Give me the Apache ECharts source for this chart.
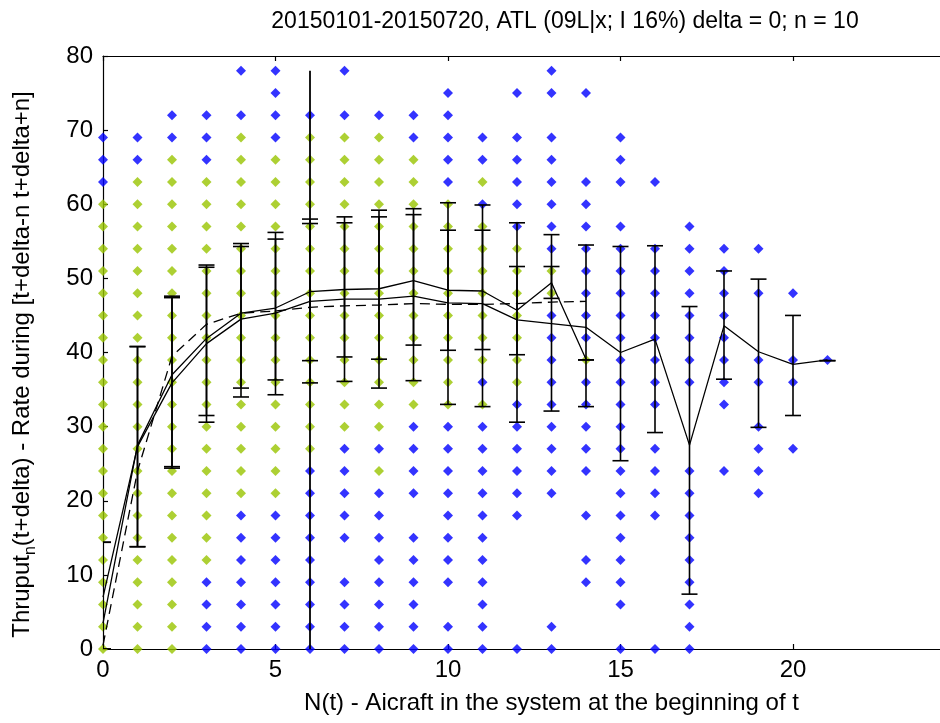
<!DOCTYPE html>
<html>
<head>
<meta charset="utf-8">
<script src="https://cdn.jsdelivr.net/npm/echarts@6/dist/echarts.min.js"></script>
<style>
  html, body { margin: 0; padding: 0; background: #fff; }
  #chart { width: 940px; height: 723px; }
</style>
</head>
<body>
<div id="chart"></div>
<script>
// Throughput vs. aircraft count, ATL runway 09L
const titleText = '20150101-20150720, ATL (09L|x; I 16%) delta = 0; n = 10';
const xName = 'N(t) - Aicraft in the system at the beginning of t';
const xRange = [0, 26];
const xStep = 5;
const yTicks = [0, 10, 20, 30, 40, 50, 60, 70, 80];

// observed throughput values per N(t) = 0..21 (all observations)
const allObs = [
  [63, 66, 69],
  [66, 69],
  [69, 72],
  [0, 3, 6, 9, 66, 69, 72],
  [0, 3, 6, 9, 12, 15, 18, 72, 78],
  [0, 3, 6, 9, 12, 15, 18, 69, 72, 75, 78],
  [0, 3, 6, 9, 12, 15, 18, 21, 24, 72],
  [0, 3, 6, 9, 15, 18, 21, 24, 27, 72, 78],
  [0, 3, 6, 9, 12, 15, 18, 21, 27, 72],
  [0, 3, 6, 9, 12, 15, 21, 24, 27, 30, 69, 72],
  [0, 3, 9, 12, 15, 18, 21, 24, 27, 30, 63, 66, 69, 72, 75],
  [0, 3, 6, 9, 12, 15, 18, 21, 24, 27, 30, 36, 60, 66, 69],
  [0, 18, 21, 24, 27, 30, 33, 57, 60, 63, 66, 69, 75],
  [0, 3, 21, 24, 27, 30, 33, 36, 39, 42, 45, 54, 57, 60, 63, 66, 69, 75, 78],
  [9, 12, 18, 24, 27, 30, 33, 36, 42, 45, 48, 51, 54, 57, 60, 63, 75],
  [0, 6, 9, 12, 15, 18, 21, 24, 27, 30, 33, 36, 39, 42, 45, 48, 51, 54, 57, 63, 66, 69],
  [0, 18, 21, 24, 27, 33, 36, 39, 42, 45, 48, 51, 54, 63],
  [0, 3, 6, 9, 12, 15, 18, 21, 24, 36, 39, 42, 45, 48, 51, 54, 57],
  [24, 33, 36, 39, 42, 45, 48, 51, 54],
  [21, 24, 27, 30, 36, 39, 48, 54],
  [27, 36, 39, 48],
  [39]
];

// values within the selected subset, N(t) = 0..14
const subsetObs = [
  [0, 3, 6, 9, 12, 15, 18, 21, 24, 27, 30, 33, 36, 39, 42, 45, 48, 51, 54, 57, 60],
  [0, 3, 6, 9, 12, 15, 18, 21, 24, 27, 30, 33, 36, 39, 42, 45, 48, 51, 54, 57, 60, 63],
  [0, 3, 6, 9, 12, 15, 18, 21, 24, 27, 30, 33, 36, 39, 42, 45, 48, 51, 54, 57, 60, 63, 66],
  [12, 15, 18, 21, 24, 27, 30, 33, 36, 39, 42, 45, 48, 51, 54, 57, 60, 63],
  [21, 24, 27, 30, 33, 36, 39, 42, 45, 48, 51, 54, 57, 60, 63, 66, 69],
  [21, 24, 27, 30, 33, 36, 39, 42, 45, 48, 51, 54, 57, 60, 63, 66],
  [27, 30, 33, 36, 39, 42, 45, 48, 51, 54, 57, 60, 63, 66, 69],
  [30, 33, 36, 39, 42, 45, 48, 51, 54, 57, 60, 63, 66, 69],
  [24, 30, 33, 36, 39, 42, 45, 48, 51, 54, 57, 60, 63, 66, 69],
  [33, 36, 39, 42, 45, 48, 51, 54, 57, 60, 63, 66],
  [33, 36, 39, 42, 45, 48, 51, 54, 57, 60],
  [33, 39, 42, 45, 48, 51, 54, 57, 63],
  [36, 39, 42, 45, 48, 51, 54],
  [48, 51],
  [39]
];

// mean throughput, all observations (N = 0..21)
const meanAll = [7, 27.3, 35.9, 41.2, 44.5, 45.3, 46.9, 47.2, 47.2, 47.6, 46.7, 46.6,
                 44.4, 43.9, 43.4, 40, 41.8, 27.5, 43.6, 40.1, 38.4, 39];
// mean throughput, subset (N = 0..14)
const meanSubset = [3.5, 27.5, 37, 41.9, 45.3, 46, 48.2, 48.5, 48.6, 49.7, 48.4, 48.3,
                    45.7, 49.4, 39.1];
// fitted curve (N = 0..14)
const fitCurve = [0.5, 24, 39.5, 43.8, 45.3, 45.6, 46.1, 46.3, 46.4, 46.6, 46.5, 46.5,
                  46.6, 46.8, 46.9];

// mean -/+ one std, all observations: [low, high]
const spreadAll = [
  [0, 14.4], [13.8, 40.8], [24.4, 47.6], [30.6, 51.8], [34.0, 54.7], [34.3, 56.2],
  [35.9, 58.0], [36.1, 58.3], [35.2, 59.2], [36.2, 59.4], [33.0, 60.2], [32.7, 59.9],
  [30.6, 57.5], [32.1, 55.9], [32.7, 54.5], [25.4, 54.3], [29.2, 54.4], [7.4, 46.2],
  [36.4, 51.0], [29.9, 49.9], [31.5, 45.0], [38.9, 38.9]
];
// mean -/+ one std, subset
const spreadSubset = [
  [0, 14.4], [13.8, 40.8], [24.6, 47.4], [31.5, 51.5], [35.2, 54.3], [36.3, 55.3],
  [38.9, 57.4], [39.4, 57.5], [39.1, 58.3], [41.0, 58.6], [40.3, 56.5], [40.4, 56.5],
  [39.7, 51.6], [47.3, 51.6], [39.0, 39.0]
];

// marker line at N = 6
const markerX = 6;
const markerRange = [0, 78];

const FONT = '"Liberation Sans", Arial, Helvetica, sans-serif';
const FS = 24;

function toPoints(cols) {
  const out = [];
  cols.forEach((vals, x) => vals.forEach(v => out.push([x, v])));
  return out;
}
function toLine(vals) {
  return vals.map((v, x) => [x, v]);
}
function toBars(rows) {
  return rows.map((r, x) => [x, r[0], r[1]]);
}

function errorBars(rows) {
  return {
    type: 'custom',
    data: toBars(rows),
    encode: { x: 0, y: [1, 2] },
    clip: true,
    z: 4,
    silent: true,
    renderItem(params, api) {
      const x = api.value(0);
      const lo = api.coord([x, api.value(1)]);
      const hi = api.coord([x, api.value(2)]);
      const half = 8;
      const st = { stroke: '#000', lineWidth: 1.6 };
      return {
        type: 'group',
        children: [
          { type: 'line', shape: { x1: lo[0], y1: lo[1], x2: hi[0], y2: hi[1] }, style: st },
          { type: 'line', shape: { x1: lo[0] - half, y1: lo[1], x2: lo[0] + half, y2: lo[1] }, style: st },
          { type: 'line', shape: { x1: hi[0] - half, y1: hi[1], x2: hi[0] + half, y2: hi[1] }, style: st }
        ]
      };
    }
  };
}

const axisCommon = {
  type: 'value',
  axisLine: { show: true, lineStyle: { color: '#000', width: 1.2 } },
  axisTick: { show: true, inside: true, length: 5, lineStyle: { color: '#000', width: 1.2 } },
  splitLine: { show: false }
};
const xLabelFmt = v => (v % xStep === 0 ? String(v) : '');

const chart = echarts.init(document.getElementById('chart'), null, { renderer: 'canvas' });
chart.setOption({
  animation: false,
  backgroundColor: '#fff',
  title: {
    text: titleText,
    left: 560,
    top: 5,
    textAlign: 'center',
    textStyle: { fontFamily: FONT, fontSize: 23, fontWeight: 'normal', color: '#000' }
  },
  grid: {
    left: 103, top: 56, right: -60, bottom: 74,
    containLabel: false, outerBoundsMode: 'none'
  },
  xAxis: [
    Object.assign({}, axisCommon, {
      min: xRange[0], max: xRange[1], interval: xStep, position: 'bottom',
      axisLabel: { color: '#000', fontFamily: FONT, fontSize: FS, margin: 9, formatter: xLabelFmt },
      name: xName, nameLocation: 'middle', nameGap: 42,
      nameTextStyle: { color: '#000', fontFamily: FONT, fontSize: FS }
    }),
    Object.assign({}, axisCommon, {
      min: xRange[0], max: xRange[1], interval: xStep, position: 'top',
      axisLabel: { show: false }
    })
  ],
  yAxis: [
    Object.assign({}, axisCommon, {
      min: yTicks[0], max: yTicks[yTicks.length - 1], interval: 10, position: 'left',
      axisLabel: { color: '#000', fontFamily: FONT, fontSize: FS, margin: 10 },
      name: '{a|Thruput}{s|n}{a|(t+delta) - Rate during [t+delta-n t+delta+n]}',
      nameLocation: 'middle', nameGap: 64, nameRotate: 90,
      nameTextStyle: {
        color: '#000', fontFamily: FONT,
        padding: [0, 24, 0, 0],
        rich: {
          a: { fontFamily: FONT, fontSize: FS, color: '#000', lineHeight: 34, verticalAlign: 'middle' },
          s: { fontFamily: FONT, fontSize: 16, color: '#000', lineHeight: 16, verticalAlign: 'bottom' }
        }
      }
    })
  ],
  series: [
    {
      type: 'scatter', data: toPoints(allObs), symbol: 'diamond', symbolSize: 10,
      itemStyle: { color: '#0000ff' }, z: 2, silent: true
    },
    {
      type: 'scatter', data: toPoints(subsetObs), symbol: 'diamond', symbolSize: 10,
      itemStyle: { color: '#99c400' }, z: 3, silent: true
    },
    errorBars(spreadAll),
    errorBars(spreadSubset),
    {
      type: 'line', data: [[markerX, markerRange[0]], [markerX, markerRange[1]]],
      showSymbol: false, lineStyle: { color: '#000', width: 1.8 }, z: 5, silent: true
    },
    {
      type: 'line', data: toLine(meanAll), showSymbol: false,
      lineStyle: { color: '#000', width: 1.3 }, z: 6, silent: true
    },
    {
      type: 'line', data: toLine(meanSubset), showSymbol: false,
      lineStyle: { color: '#000', width: 1.3 }, z: 6, silent: true
    },
    {
      type: 'line', data: toLine(fitCurve), showSymbol: false,
      lineStyle: { color: '#000', width: 1.3, type: [10, 6] }, z: 6, silent: true
    }
  ]
});
</script>
</body>
</html>
